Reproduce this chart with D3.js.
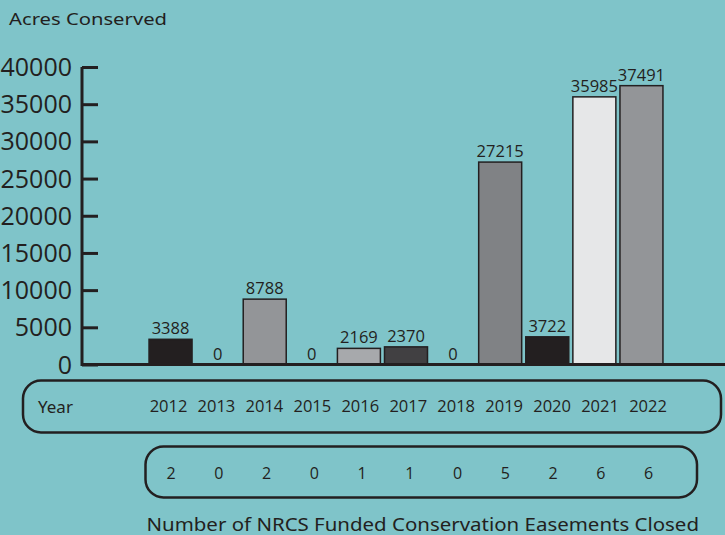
<!DOCTYPE html>
<html>
<head>
<meta charset="utf-8">
<script src="https://cdn.jsdelivr.net/npm/d3@7"></script>
<style>
  html, body { margin: 0; padding: 0; background: #7fc4c9; }
  svg { display: block; }
  text { fill: #231f20; }
</style>
</head>
<body>
<div class="interactive-wrapper"></div>
<script>
const years = ['2012','2013','2014','2015','2016','2017','2018','2019','2020','2021','2022'];
const acres = [3388, 0, 8788, 0, 2169, 2370, 0, 27215, 3722, 35985, 37491];
const easements = [2, 0, 2, 0, 1, 1, 0, 5, 2, 6, 6];
const barColors = ['#231f20','#231f20','#939598','#939598','#a7a9ac','#414042','#414042','#808285','#231f20','#e6e7e8','#939598'];
const yTicks = [0, 5000, 10000, 15000, 20000, 25000, 30000, 35000, 40000];

const width = 725, height = 535;
const ink = '#231f20';
const labelFont = "'Open Sans', sans-serif";
const titleFont = "'Noto Sans', sans-serif";

const svg = d3.select('.interactive-wrapper')
  .append('svg')
  .attr('width', width)
  .attr('height', height);

const x = d3.scaleBand()
  .domain(years)
  .range([147, 665])
  .paddingInner(0.087)
  .paddingOuter(0.0435);

// labels under the chart sit on a slightly wider grid than the bars
const xLabel = d3.scalePoint()
  .domain(years)
  .range([168.5, 648]);

const xCount = d3.scalePoint()
  .domain(years)
  .range([171, 648.5]);

const y = d3.scaleLinear()
  .domain([0, 40000])
  .range([364.5, 67]);

// title
svg.append('text')
  .attr('x', 9)
  .attr('y', 25)
  .attr('font-family', titleFont)
  .attr('font-size', 17)
  .attr('textLength', 158)
  .attr('lengthAdjust', 'spacingAndGlyphs')
  .text('Acres Conserved');

// y axis
const yAxis = d3.axisRight(y)
  .tickValues(yTicks)
  .tickSize(16)
  .tickFormat('');

const gy = svg.append('g')
  .attr('transform', 'translate(82,0)')
  .call(yAxis);

gy.select('.domain')
  .attr('d', `M0,${y(40000)}V${y(0) + 1.5}`)
  .attr('stroke', ink)
  .attr('stroke-width', 3);

gy.selectAll('.tick line')
  .attr('stroke', ink)
  .attr('stroke-width', 3);

svg.append('g')
  .selectAll('text')
  .data(yTicks)
  .join('text')
  .attr('x', 72)
  .attr('y', d => y(d) + 9)
  .attr('text-anchor', 'end')
  .attr('font-family', labelFont)
  .attr('font-size', 25)
  .text(d => d);

// bars
svg.append('g')
  .selectAll('rect')
  .data(years.filter((d, i) => acres[i] > 0))
  .join('rect')
  .attr('x', d => x(d))
  .attr('y', d => y(acres[years.indexOf(d)]))
  .attr('width', x.bandwidth())
  .attr('height', d => y(0) - y(acres[years.indexOf(d)]))
  .attr('fill', d => barColors[years.indexOf(d)])
  .attr('stroke', ink)
  .attr('stroke-width', 1.5);

// baseline
svg.append('line')
  .attr('x1', 81)
  .attr('x2', width)
  .attr('y1', y(0))
  .attr('y2', y(0))
  .attr('stroke', ink)
  .attr('stroke-width', 3);

// value labels
svg.append('g')
  .selectAll('text')
  .data(years)
  .join('text')
  .attr('x', d => x(d) + x.bandwidth() / 2)
  .attr('y', (d, i) => y(acres[i]) - 5)
  .attr('text-anchor', 'middle')
  .attr('font-family', labelFont)
  .attr('font-size', 16.5)
  .text((d, i) => acres[i]);

// year box
svg.append('rect')
  .attr('x', 23)
  .attr('y', 380.5)
  .attr('width', 698)
  .attr('height', 52)
  .attr('rx', 18)
  .attr('fill', 'none')
  .attr('stroke', ink)
  .attr('stroke-width', 2.5);

svg.append('text')
  .attr('x', 38)
  .attr('y', 413)
  .attr('font-family', titleFont)
  .attr('font-size', 17)
  .text('Year');

svg.append('g')
  .selectAll('text')
  .data(years)
  .join('text')
  .attr('x', d => xLabel(d))
  .attr('y', 412)
  .attr('text-anchor', 'middle')
  .attr('font-family', labelFont)
  .attr('font-size', 16.5)
  .text(d => d);

// easements box
svg.append('rect')
  .attr('x', 145.5)
  .attr('y', 446.5)
  .attr('width', 551.5)
  .attr('height', 51)
  .attr('rx', 18)
  .attr('fill', 'none')
  .attr('stroke', ink)
  .attr('stroke-width', 2.5);

svg.append('g')
  .selectAll('text')
  .data(years)
  .join('text')
  .attr('x', d => xCount(d))
  .attr('y', 479)
  .attr('text-anchor', 'middle')
  .attr('font-family', labelFont)
  .attr('font-size', 16)
  .text((d, i) => easements[i]);

svg.append('text')
  .attr('x', 146.5)
  .attr('y', 530.5)
  .attr('font-family', titleFont)
  .attr('font-size', 17.5)
  .attr('textLength', 552.5)
  .attr('lengthAdjust', 'spacingAndGlyphs')
  .text('Number of NRCS Funded Conservation Easements Closed');
</script>
</body>
</html>
